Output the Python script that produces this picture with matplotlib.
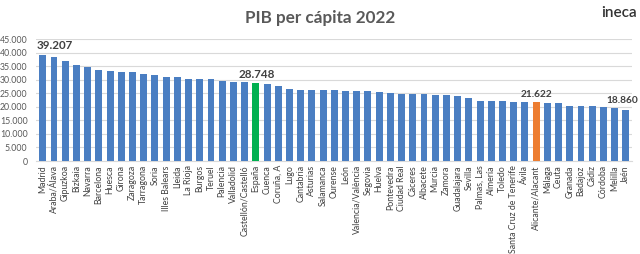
import matplotlib
matplotlib.use("Agg")
import matplotlib.pyplot as plt
from matplotlib.ticker import FuncFormatter, MultipleLocator

provincias = ["Madrid", "Araba/Álava", "Gipuzkoa", "Bizkaia", "Navarra", "Barcelona", "Huesca",
              "Girona", "Zaragoza", "Tarragona", "Soria", "Illes Balears", "Lleida", "La Rioja",
              "Burgos", "Teruel", "Palencia", "Valladolid", "Castellón/Castelló", "España", "Cuenca",
              "Coruña, A", "Lugo", "Cantabria", "Asturias", "Salamanca", "Ourense", "León",
              "Valencia/València", "Segovia", "Huelva", "Pontevedra", "Ciudad Real", "Cáceres",
              "Albacete", "Murcia", "Zamora", "Guadalajara", "Sevilla", "Palmas, Las", "Almería",
              "Toledo", "Santa Cruz de Tenerife", "Ávila", "Alicante/Alacant", "Málaga", "Ceuta",
              "Granada", "Badajoz", "Cádiz", "Córdoba", "Melilla", "Jaén"]
pib = [39207, 38550, 37050, 35550, 34800, 33550, 33350, 32850, 32800, 32200, 31700, 31100,
       30850, 30450, 30200, 30200, 29450, 29350, 29300, 28748, 28350, 27600, 26650, 26400,
       26350, 26150, 26100, 26000, 25900, 25750, 25500, 25000, 24650, 24600, 24600, 24400,
       24250, 24000, 23150, 22300, 22050, 22050, 21900, 21800, 21622, 21400, 21300, 20300,
       20300, 20450, 20050, 19550, 18860]
titulo = "PIB per cápita 2022"

BLUE = "#4A7EC2"
GREEN = "#00B050"
ORANGE = "#ED7D31"
colors = []
for p in provincias:
    if p == "España":
        colors.append(GREEN)
    elif p == "Alicante/Alacant":
        colors.append(ORANGE)
    else:
        colors.append(BLUE)

plt.rcParams['font.family'] = ['Lato', 'DejaVu Sans']

fig = plt.figure(figsize=(6.4, 2.54), dpi=100)
ax = fig.add_axes([0.056, 0.366, 0.9315, 0.48])
x = list(range(len(provincias)))
ax.bar(x, pib, width=0.62, color=colors, zorder=3)
ax.set_xlim(-0.62, len(provincias) - 1 + 0.55)
ax.set_ylim(0, 45000)
ax.yaxis.set_major_locator(MultipleLocator(5000))
ax.yaxis.set_major_formatter(FuncFormatter(lambda v, p: f"{v:,.0f}".replace(",", ".")))
ax.grid(axis="y", color="#D9D9D9", linewidth=0.8, zorder=0)
for s in ["top", "right", "left"]:
    ax.spines[s].set_visible(False)
ax.spines["bottom"].set_color("#D9D9D9")
ax.tick_params(axis="y", length=0, labelsize=6.3, labelcolor="#595959", pad=6)
ax.tick_params(axis="x", length=0, labelsize=6.3, labelcolor="#404040", pad=3)
ax.set_xticks(x)
ax.set_xticklabels(provincias, rotation=90)

def fmt(v):
    return f"{v:,.0f}".replace(",", ".")

labels = {"Madrid": (12, 9, 8.4), "España": (1, 9, 8.4), "Alicante/Alacant": (0, 8, 7.3), "Jaén": (-4, 9, 7.3)}
for name, (dx, dy, fs) in labels.items():
    i = provincias.index(name)
    ax.annotate(fmt(pib[i]), xy=(i, pib[i]), xytext=(dx, dy), textcoords="offset pixels",
                ha="center", va="center", fontsize=fs, fontweight="bold", color="#404040")

fig.text(0.5, 0.93, titulo, ha="center", va="center", fontsize=12.3, fontweight="bold", color="#595959")
fig.text(0.995, 0.95, "ineca", ha="right", va="center", fontsize=11, fontweight="semibold", color="#333333")

fig.savefig("out.png", dpi=100)
